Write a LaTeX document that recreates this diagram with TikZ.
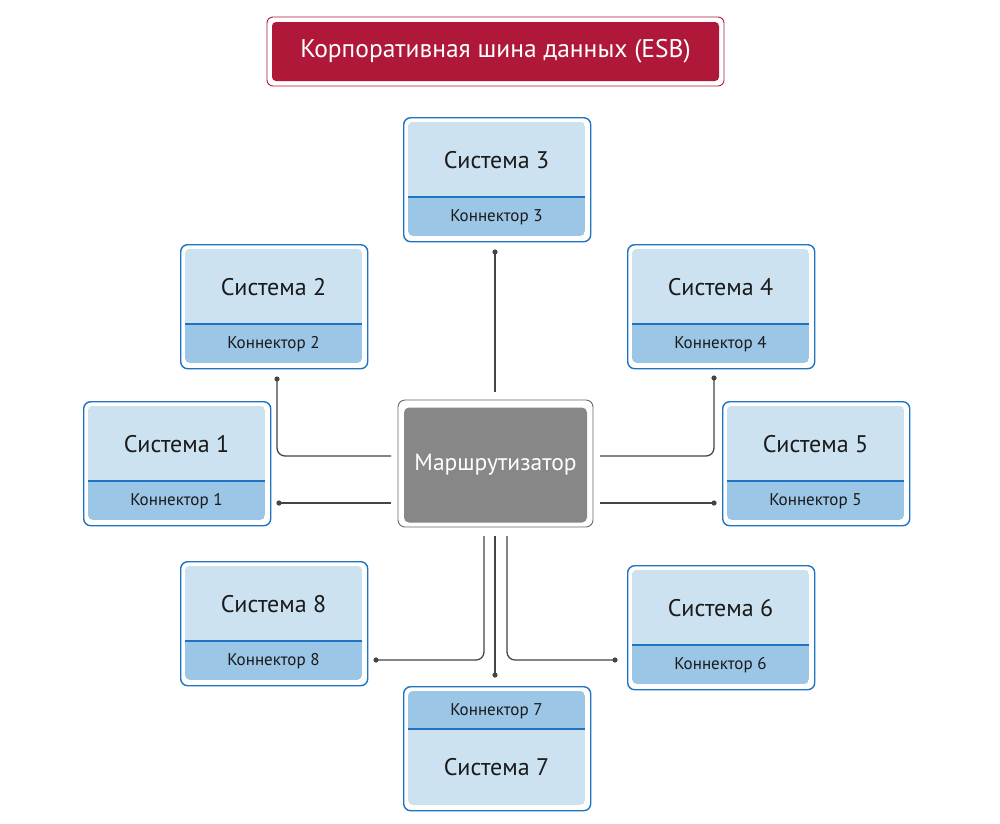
\documentclass[tikz,border=0pt]{standalone}
\usepackage{fontspec}
\setmainfont{PT Sans}
\definecolor{esbred}{HTML}{AF1838}
\definecolor{esbblue}{HTML}{1E74C2}
\definecolor{lightfill}{HTML}{CCE2F1}
\definecolor{darkfill}{HTML}{9CC6E6}
\definecolor{routergray}{HTML}{878787}
\definecolor{linegray}{HTML}{454545}
\definecolor{txt}{HTML}{1A1A1A}
\tikzset{
  outerbox/.style={draw=esbblue, line width=1.4pt, rounded corners=7pt, fill=white,
    minimum width=187pt, minimum height=124pt, inner sep=0pt, anchor=north west},
  sepline/.style={draw=esbblue, line width=1.1pt},
  systext/.style={font=\fontsize{24}{27}\selectfont, text=txt, inner sep=0pt},
  conntext/.style={font=\fontsize{17}{20}\selectfont, text=txt, inner sep=0pt},
  link/.style={draw=linegray, line width=1.3pt, rounded corners=8pt},
  dotc/.style={fill=linegray},
}
\newcommand\sysbox[5]{%
  \begin{scope}[shift={(#2,#3)}]
    \node[outerbox] (#1) at (0,0) {};
    \begin{scope}
      \clip[rounded corners=5pt] (5,5) rectangle (182,119);
      \fill[darkfill] (5,5) rectangle (182,119);
      \fill[lightfill] (5,5) rectangle (182,80);
    \end{scope}
    \draw[sepline] (5,80) -- (182,80);
    \node[systext] (#1t) at (93.5,43) {#4};
    \node[conntext] (#1c) at (93.5,100) {#5};
  \end{scope}}
\newcommand\sysboxflip[5]{%
  \begin{scope}[shift={(#2,#3)}]
    \node[outerbox] (#1) at (0,0) {};
    \begin{scope}
      \clip[rounded corners=5pt] (5,5) rectangle (182,119);
      \fill[lightfill] (5,5) rectangle (182,119);
      \fill[darkfill] (5,5) rectangle (182,43);
    \end{scope}
    \draw[sepline] (5,43) -- (182,43);
    \node[conntext] (#1c) at (93.5,25) {#5};
    \node[systext] (#1t) at (93.5,81) {#4};
  \end{scope}}
\begin{document}
\begin{tikzpicture}[x=1pt,y=-1pt]
\useasboundingbox (0,0) rectangle (1000,823);
\fill[white] (0,0) rectangle (1000,823);

% title
\node[draw=esbred, line width=0.9pt, rounded corners=6pt, minimum width=457pt, minimum height=69pt, inner sep=0pt] (titleout) at (495.5,51.5) {};
\node[fill=esbred, rounded corners=4pt, minimum width=447pt, minimum height=59pt, inner sep=0pt,
  text=white, font=\fontsize{25.5}{28}\selectfont] (title) at (495.5,51.5) {Корпоративная шина данных (ESB)};

% router
\node[draw=black!60, line width=0.9pt, rounded corners=7pt, fill=white, minimum width=195pt, minimum height=127pt, inner sep=0pt] (routerout) at (495.5,463.5) {};
\node[fill=routergray, rounded corners=5pt, minimum width=183pt, minimum height=115pt, inner sep=0pt,
  text=white, font=\fontsize{23.5}{26}\selectfont] (router) at (495.5,465) {Маршрутизатор};

% systems
\sysbox{s3}{403}{117}{Система 3}{Коннектор 3}
\sysbox{s2}{180}{244}{Система 2}{Коннектор 2}
\sysbox{s4}{627}{244}{Система 4}{Коннектор 4}
\sysbox{s1}{83}{401}{Система 1}{Коннектор 1}
\sysbox{s5}{722}{401}{Система 5}{Коннектор 5}
\sysbox{s8}{180}{561}{Система 8}{Коннектор 8}
\sysbox{s6}{627}{565}{Система 6}{Коннектор 6}
\sysboxflip{s7}{403}{686}{Система 7}{Коннектор 7}

% connector end points
\coordinate (d3) at (495,252);  \coordinate (r3) at (495,392);
\coordinate (d2) at (277,379);  \coordinate (r2) at (391,456);
\coordinate (d1) at (279,503);  \coordinate (r1) at (391,503);
\coordinate (d4) at (714,378);  \coordinate (r4) at (600,456);
\coordinate (d5) at (714,503);  \coordinate (r5) at (600,503);
\coordinate (d8) at (376,660);  \coordinate (r8) at (484,536);
\coordinate (d7) at (495,675);  \coordinate (r7) at (495,536);
\coordinate (d6) at (615,660);  \coordinate (r6) at (507,536);

\draw[link] (d3) -- (r3);
\draw[link] (d2) |- (r2);
\draw[link] (d1) -- (r1);
\draw[link] (d4) |- (r4);
\draw[link] (r5) -- (d5);
\draw[link] (r8) |- (d8);
\draw[link] (r7) -- (d7);
\draw[link] (r6) |- (d6);
\foreach \d in {d1,d2,d3,d4,d5,d6,d7,d8} {\fill[dotc] (\d) circle (2.6pt);}
\end{tikzpicture}
\end{document}
